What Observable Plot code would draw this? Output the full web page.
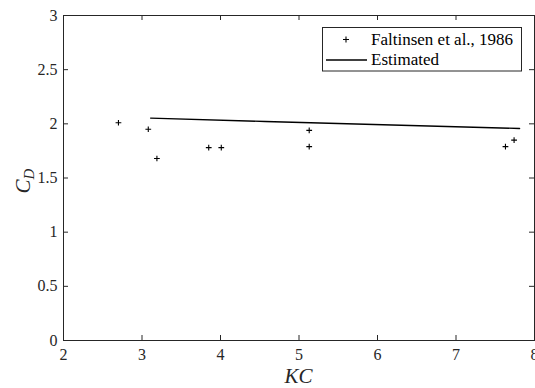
<!DOCTYPE html>
<html><head><meta charset="utf-8">
<script src="https://cdn.jsdelivr.net/npm/d3@7"></script>
<script src="https://cdn.jsdelivr.net/npm/@observablehq/plot@0.6"></script>
<style>body{margin:0;background:#fff;overflow:hidden}</style>
</head><body><div id="chart"></div>
<script>
const measKC = [2.70, 3.08, 3.19, 3.85, 4.01, 5.13, 5.13, 7.63, 7.74];
const measCD = [2.01, 1.95, 1.68, 1.78, 1.78, 1.94, 1.79, 1.79, 1.85];
const estKC = [3.11, 4.57, 7.81];
const estCD = [2.053, 2.022, 1.957];
const xTicks = [2, 3, 4, 5, 6, 7, 8];
const yTicks = [0, 0.5, 1, 1.5, 2, 2.5, 3];
const legendLabels = ["Faltinsen et al., 1986", "Estimated"];

const W = 535, H = 388;
const mL = 63, mR = 1, mT = 15, mB = 48;
const iW = W - mL - mR, iH = H - mT - mB;
const tick = 5;
const axisColor = "#262626";
const font = "Liberation Serif";

const meas = measKC.map((x, i) => ({x, y: measCD[i]}));
const est = estKC.map((x, i) => ({x, y: estCD[i]}));

const svg = Plot.plot({
  width: W, height: H,
  marginLeft: mL, marginRight: mR, marginTop: mT, marginBottom: mB,
  style: {fontFamily: font, fontSize: "16px", color: axisColor, background: "white", overflow: "visible"},
  x: {domain: [2, 8], label: null},
  y: {domain: [0, 3], label: null},
  marks: [
    Plot.axisX(xTicks, {tickSize: 0, tickPadding: 8, tickFormat: d => String(d), fontSize: 16, fontFamily: font}),
    Plot.axisY(yTicks, {tickSize: 0, tickPadding: 6, tickFormat: d => String(d), fontSize: 16, fontFamily: font}),
    Plot.ruleX(xTicks, {stroke: axisColor, insetTop: iH - tick}),
    Plot.ruleX(xTicks, {stroke: axisColor, insetBottom: iH - tick}),
    Plot.ruleY(yTicks, {stroke: axisColor, insetRight: iW - tick}),
    Plot.ruleY(yTicks, {stroke: axisColor, insetLeft: iW - tick}),
    Plot.frame({stroke: axisColor, strokeWidth: 1}),
    Plot.line(est, {x: "x", y: "y", stroke: "black", strokeWidth: 1.4}),
    Plot.dot(meas, {x: "x", y: "y", symbol: "plus", r: 2, stroke: "black", strokeWidth: 1.1})
  ]
});

const s = d3.select(svg);
// axis labels
s.append("text")
  .attr("x", mL + iW / 2).attr("y", 383)
  .attr("text-anchor", "middle")
  .attr("font-family", font)
  .attr("font-size", 21).attr("font-style", "italic")
  .attr("fill", axisColor)
  .text("KC");
const yl = s.append("text")
  .attr("transform", `translate(30,181) rotate(-90)`)
  .attr("text-anchor", "middle")
  .attr("font-family", font)
  .attr("font-size", 21).attr("font-style", "italic")
  .attr("fill", axisColor);
yl.append("tspan").text("C");
yl.append("tspan").attr("font-size", 15).attr("dy", 4).text("D");

// legend
const lg = s.append("g").attr("font-family", font).attr("font-size", 17).attr("fill", "black").attr("text-anchor", "start");
lg.append("rect").attr("x", 322.5).attr("y", 27.5).attr("width", 199).attr("height", 43.5)
  .attr("fill", "white").attr("stroke", axisColor).attr("stroke-width", 1);
lg.append("path").attr("d", "M343,39.5h6M346,36.5v6").attr("stroke", "black").attr("stroke-width", 1.1).attr("fill", "none");
lg.append("line").attr("x1", 326).attr("x2", 367).attr("y1", 60).attr("y2", 60)
  .attr("stroke", "black").attr("stroke-width", 1.4);
lg.append("text").attr("x", 371).attr("y", 44.5).attr("text-anchor", "start").text(legendLabels[0]);
lg.append("text").attr("x", 371).attr("y", 64.5).attr("text-anchor", "start").text(legendLabels[1]);

document.getElementById("chart").appendChild(svg);
</script>
</body></html>
